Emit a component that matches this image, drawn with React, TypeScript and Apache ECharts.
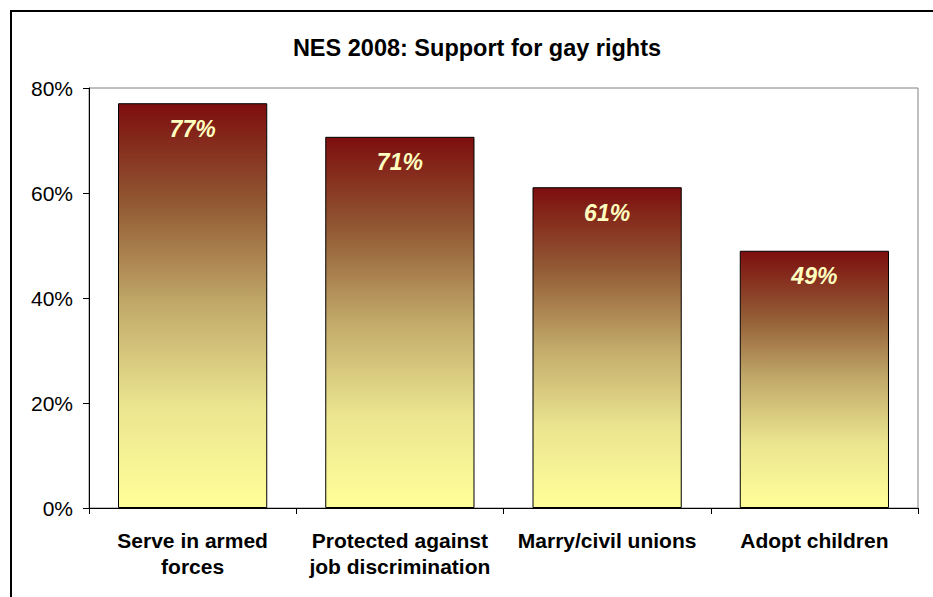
import React, { useEffect, useRef } from "react";
import * as echarts from "echarts";

const titleText = "NES 2008: Support for gay rights";
const categories = ["Serve in armed\nforces", "Protected against\njob discrimination", "Marry/civil unions", "Adopt children"];
const values = [77.1, 70.7, 61.1, 49.0];
const valueLabels = ["77%", "71%", "61%", "49%"];
const yTicks = [0, 20, 40, 60, 80];

const FONT = "'Liberation Sans', Arial, Helvetica, sans-serif";

export default function App() {
  const ref = useRef<HTMLDivElement>(null);
  useEffect(() => {
    if (!ref.current) return;
    const chart = echarts.init(ref.current, undefined, { renderer: "svg" });
    const gradient = new echarts.graphic.LinearGradient(0, 0, 0, 1, [
      { offset: 0, color: "#7d0e0e" },
      { offset: 0.25, color: "#925a34" },
      { offset: 0.5, color: "#c2aa6a" },
      { offset: 0.75, color: "#ebe590" },
      { offset: 1, color: "#ffff99" },
    ]);
    chart.setOption({
      animation: false,
      backgroundColor: "#ffffff",
      textStyle: { fontFamily: FONT },
      title: {
        text: titleText,
        left: 472,
        top: 31,
        textAlign: "center",
        textStyle: { fontFamily: FONT, fontSize: 23.5, fontWeight: "bold", color: "#000" },
      },
      graphic: [
        {
          type: "rect",
          shape: { x: 11, y: 11, width: 1000, height: 1000 },
          style: { fill: "none", stroke: "#000", lineWidth: 2 },
          silent: true,
        },
      ],
      grid: {
        left: 89,
        top: 88,
        right: 15,
        bottom: 89,
        show: true,
        borderColor: "#808080",
        borderWidth: 1,
        backgroundColor: "#ffffff",
        containLabel: false,
      },
      xAxis: {
        type: "category",
        data: categories,
        boundaryGap: true,
        axisLine: { show: true, lineStyle: { color: "#000", width: 1 } },
        axisTick: { show: true, length: 6, alignWithLabel: false, lineStyle: { color: "#000" } },
        axisLabel: {
          interval: 0,
          margin: 19,
          fontFamily: FONT,
          fontSize: 21,
          fontWeight: "bold",
          color: "#000",
          lineHeight: 26,
        },
      },
      yAxis: {
        type: "value",
        min: 0,
        max: 80,
        interval: 20,
        axisLine: { show: true, lineStyle: { color: "#000", width: 1 } },
        axisTick: { show: true, length: 6, lineStyle: { color: "#000" } },
        splitLine: { show: false },
        axisLabel: {
          margin: 16,
          fontFamily: FONT,
          fontSize: 21,
          color: "#000",
          formatter: (v: number) => (yTicks.includes(v) ? v + "%" : ""),
        },
      },
      series: [
        {
          type: "bar",
          data: values,
          barWidth: "72%",
          itemStyle: { color: gradient, borderColor: "#000", borderWidth: 1 },
          label: {
            show: true,
            position: "insideTop",
            distance: 14,
            fontFamily: FONT,
            fontSize: 23,
            fontWeight: "bold",
            fontStyle: "italic",
            color: "#ffffc0",
            formatter: (p: any) => valueLabels[p.dataIndex],
          },
        },
      ],
    });
    return () => chart.dispose();
  }, []);
  return <div ref={ref} style={{ position: "fixed", left: 0, top: 0, width: 933, height: 597 }} />;
}
